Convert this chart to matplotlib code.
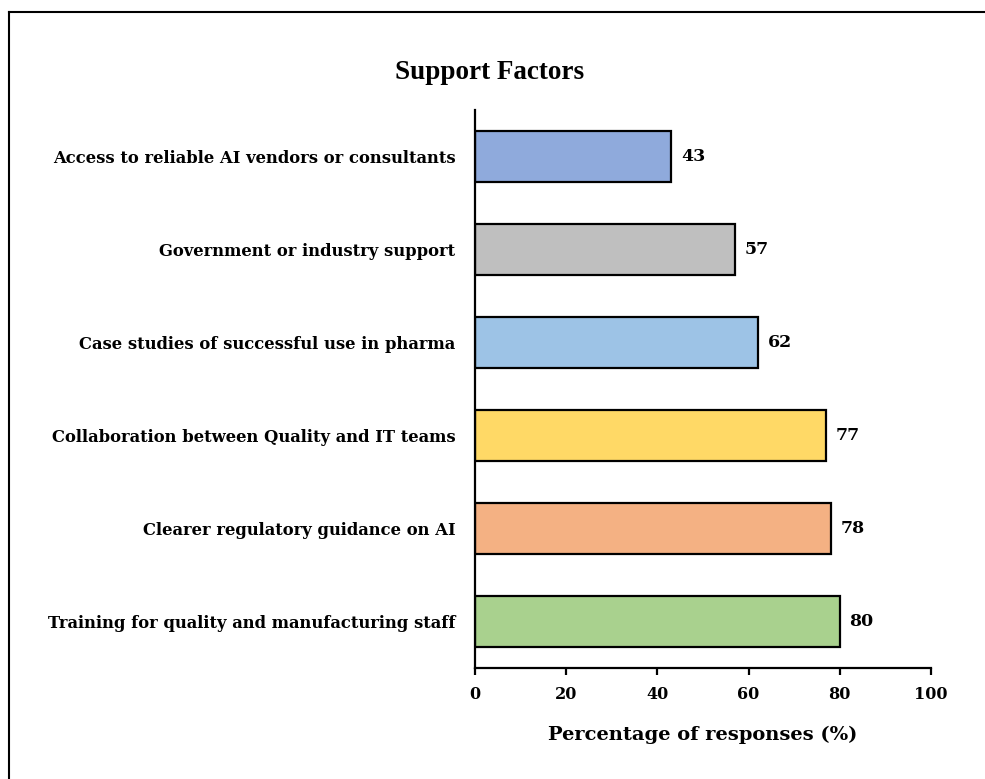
import matplotlib.pyplot as plt
from matplotlib.lines import Line2D

# --- datos ---
factores = [
    "Training for quality and manufacturing staff",
    "Clearer regulatory guidance on AI",
    "Collaboration between Quality and IT teams",
    "Case studies of successful use in pharma",
    "Government or industry support",
    "Access to reliable AI vendors or consultants",
]
porcentajes = [80, 78, 77, 62, 57, 43]
colores = ['#A9D18E', '#F4B183', '#FFD966', '#9DC3E6', '#BFBFBF', '#8FAADC']
xticks = [0, 20, 40, 60, 80, 100]

FUENTE = 'DejaVu Serif'

fig = plt.figure(figsize=(9.85, 7.79), dpi=100)
ax = fig.add_axes([0.4822, 0.1425, 0.4630, 0.7163])

ax.barh(range(len(factores)), porcentajes, height=0.54, color=colores,
        edgecolor='black', linewidth=1.6)
for i, v in enumerate(porcentajes):
    ax.annotate(f"{v}", xy=(v, i), xytext=(7, 0), textcoords='offset points',
                ha='left', va='center', fontsize=12.5, fontweight='bold', family=FUENTE)

ax.set_xlim(0, 100)
ax.set_ylim(-0.5, len(factores) - 0.5)
ax.set_xticks(xticks)
ax.set_xticklabels([str(t) for t in xticks], fontsize=11.5, fontweight='bold', family=FUENTE)
ax.set_yticks(range(len(factores)))
ax.set_yticklabels(factores, fontsize=11.8, fontweight='bold', family=FUENTE)
ax.tick_params(axis='y', length=0, pad=14)
ax.tick_params(axis='x', length=5, width=1.6, pad=8)
for s in ['top', 'right']:
    ax.spines[s].set_visible(False)
for s in ['left', 'bottom']:
    ax.spines[s].set_linewidth(1.6)

ax.set_xlabel("Percentage of responses (%)", fontsize=14, fontweight='bold',
              family=FUENTE, labelpad=16)
fig.text(0.497, 0.907, "Support Factors", ha='center', va='center',
         fontsize=19.5, fontweight='bold', family='Liberation Serif')

# marco exterior (solo arriba e izquierda visibles)
fig.add_artist(Line2D([9 / 985, 1], [1 - 12 / 779, 1 - 12 / 779], color='black', lw=1.5))
fig.add_artist(Line2D([9 / 985, 9 / 985], [0, 1 - 12 / 779], color='black', lw=1.5))

fig.savefig("out.png", dpi=100)
